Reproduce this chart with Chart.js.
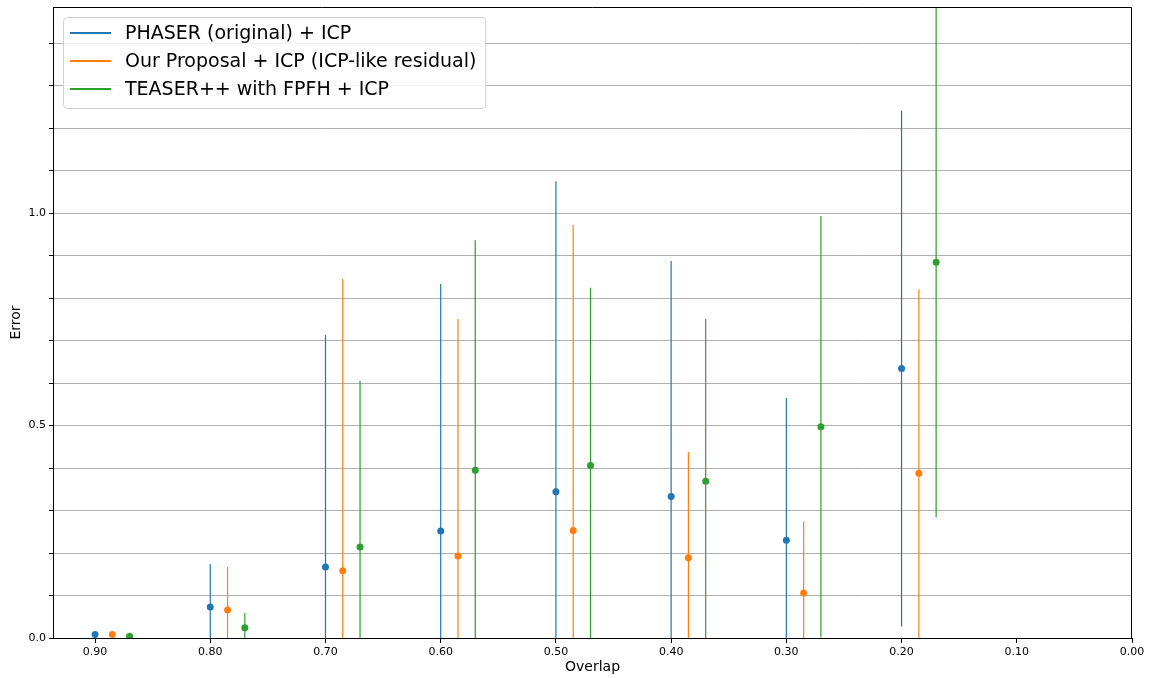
<!DOCTYPE html>
<html>
<head>
<meta charset="utf-8">
<script src="https://cdn.jsdelivr.net/npm/chart.js@4.4.1/dist/chart.umd.min.js"></script>
<style>
    body { margin: 0; background: #fff; }
    #wrap { width: 1151px; height: 678px; }
</style>
</head>
<body>
<div id="wrap"><canvas id="errChart" width="1151" height="678"></canvas></div>
<script>
// overlap levels (x axis), each method is shifted a bit to the right
const overlaps = [0.90, 0.80, 0.70, 0.60, 0.50, 0.40, 0.30, 0.20];
const xTicks = [0.9, 0.8, 0.7, 0.6, 0.5, 0.4, 0.3, 0.2, 0.1, 0.0];
const yTicks = [0, 0.1, 0.2, 0.3, 0.4, 0.5, 0.6, 0.7, 0.8, 0.9, 1.0, 1.1, 1.2, 1.3, 1.4];

const methodNames = ['PHASER (original) + ICP', 'Our Proposal + ICP (ICP-like residual)', 'TEASER++ with FPFH + ICP'];
const methodColors = ['#1f77b4', '#ff7f0e', '#2ca02c'];
const methodShift = [0, -0.015, -0.03];

// media del error
const phaserMean = [0.008, 0.073, 0.167, 0.252, 0.344, 0.333, 0.230, 0.634];
const proposalMean = [0.008, 0.066, 0.158, 0.193, 0.253, 0.189, 0.106, 0.388];
const teaserMean = [0.004, 0.024, 0.214, 0.395, 0.406, 0.369, 0.497, 0.884];

// desviacion (barras de error simetricas)
const phaserStd = [0.005, 0.101, 0.546, 0.581, 0.731, 0.554, 0.335, 0.607];
const proposalStd = [0.005, 0.101, 0.687, 0.558, 0.719, 0.249, 0.169, 0.433];
const teaserStd = [0.003, 0.035, 0.391, 0.541, 0.418, 0.382, 0.496, 0.600];

const means = [phaserMean, proposalMean, teaserMean];
const stds = [phaserStd, proposalStd, teaserStd];

const FONT = "'DejaVu Sans', sans-serif";

const datasets = methodNames.map((name, m) => ({
    label: name,
    data: overlaps.map((x, i) => ({ x: x + methodShift[m], y: means[m][i] })),
    errors: stds[m],
    backgroundColor: methodColors[m],
    borderColor: methodColors[m],
    pointRadius: 3.5,
    pointHoverRadius: 3.5,
    pointBorderWidth: 0,
    showLine: false
}));

//barras de error verticales
const errorBarsPlugin = {
    id: 'errorBars',
    beforeDatasetsDraw(chart) {
        const ctx = chart.ctx;
        const area = chart.chartArea;
        const yScale = chart.scales.y;
        ctx.save();
        ctx.beginPath();
        ctx.rect(area.left, area.top, area.right - area.left, area.bottom - area.top);
        ctx.clip();
        chart.data.datasets.forEach((ds, d) => {
            const meta = chart.getDatasetMeta(d);
            ctx.strokeStyle = ds.borderColor;
            ctx.lineWidth = 1.2;
            meta.data.forEach((pt, i) => {
                const v = ds.data[i].y;
                const e = ds.errors[i];
                ctx.beginPath();
                ctx.moveTo(pt.x, yScale.getPixelForValue(v - e));
                ctx.lineTo(pt.x, yScale.getPixelForValue(v + e));
                ctx.stroke();
            });
        });
        ctx.restore();
    }
};

//marco superior/derecho + leyenda dentro del area
const frameLegendPlugin = {
    id: 'frameLegend',
    afterDraw(chart) {
        const ctx = chart.ctx;
        const a = chart.chartArea;
        ctx.save();
        ctx.strokeStyle = '#000';
        ctx.lineWidth = 1;
        const top = Math.round(a.top) + 0.5;
        const right = Math.round(a.right) - 0.5;
        ctx.beginPath();
        ctx.moveTo(a.left, top);
        ctx.lineTo(right, top);
        ctx.lineTo(right, a.bottom);
        ctx.stroke();

        ctx.font = '19px ' + FONT;
        const textW = Math.max(...methodNames.map(n => ctx.measureText(n).width));
        const x0 = a.left + 10, y0 = a.top + 10;
        const rowH = 28;
        const w = 62 + textW + 9;
        const h = 3 * rowH + 7;
        ctx.fillStyle = 'rgba(255,255,255,0.85)';
        ctx.strokeStyle = '#d0d0d0';
        ctx.beginPath();
        ctx.roundRect(x0 + 0.5, y0 + 0.5, w, h, 4);
        ctx.fill();
        ctx.stroke();

        ctx.textBaseline = 'middle';
        ctx.textAlign = 'left';
        methodNames.forEach((n, i) => {
            const cy = y0 + 16 + i * rowH;
            ctx.strokeStyle = methodColors[i];
            ctx.lineWidth = 2;
            ctx.beginPath();
            ctx.moveTo(x0 + 7, cy);
            ctx.lineTo(x0 + 48, cy);
            ctx.stroke();
            ctx.fillStyle = '#000';
            ctx.fillText(n, x0 + 62, cy + 1);
        });
        ctx.restore();
    }
};

new Chart(document.getElementById('errChart'), {
    type: 'scatter',
    data: { datasets: datasets },
    options: {
        responsive: false,
        animation: false,
        layout: { padding: { top: 7, right: 19, left: 0, bottom: 0 } },
        plugins: {
            legend: { display: false },
            tooltip: { enabled: false }
        },
        scales: {
            x: {
                type: 'linear',
                reverse: true,
                min: 0,
                max: 0.9365,
                afterBuildTicks: scale => { scale.ticks = xTicks.map(v => ({ value: v })); },
                afterFit: scale => { scale.height = 40; scale.paddingLeft = 0; scale.paddingRight = 0; },
                border: { color: '#000', width: 1 },
                grid: { drawOnChartArea: false, tickColor: '#000', tickLength: 5 },
                ticks: {
                    autoSkip: false,
                    maxRotation: 0,
                    padding: 3,
                    color: '#000',
                    font: { family: FONT, size: 11 },
                    callback: v => v.toFixed(2)
                },
                title: {
                    display: true,
                    text: 'Overlap',
                    color: '#000',
                    font: { family: FONT, size: 14 },
                    padding: { top: 0, bottom: 2 }
                }
            },
            y: {
                type: 'linear',
                min: 0,
                max: 1.485,
                afterBuildTicks: scale => { scale.ticks = yTicks.map(v => ({ value: v })); },
                afterFit: scale => { scale.width = 53; scale.paddingTop = 0; scale.paddingBottom = 0; },
                border: { color: '#000', width: 1 },
                grid: { color: '#b0b0b0', lineWidth: 1, tickColor: '#000', tickLength: 4 },
                ticks: {
                    autoSkip: false,
                    padding: 3,
                    color: '#000',
                    font: { family: FONT, size: 11 },
                    callback: v => Math.abs(v * 2 - Math.round(v * 2)) < 1e-6 ? v.toFixed(1) : ''
                },
                title: {
                    display: true,
                    text: 'Error',
                    color: '#000',
                    font: { family: FONT, size: 14 },
                    padding: { top: 8, bottom: 0 }
                }
            }
        }
    },
    plugins: [errorBarsPlugin, frameLegendPlugin]
});
</script>
</body>
</html>
